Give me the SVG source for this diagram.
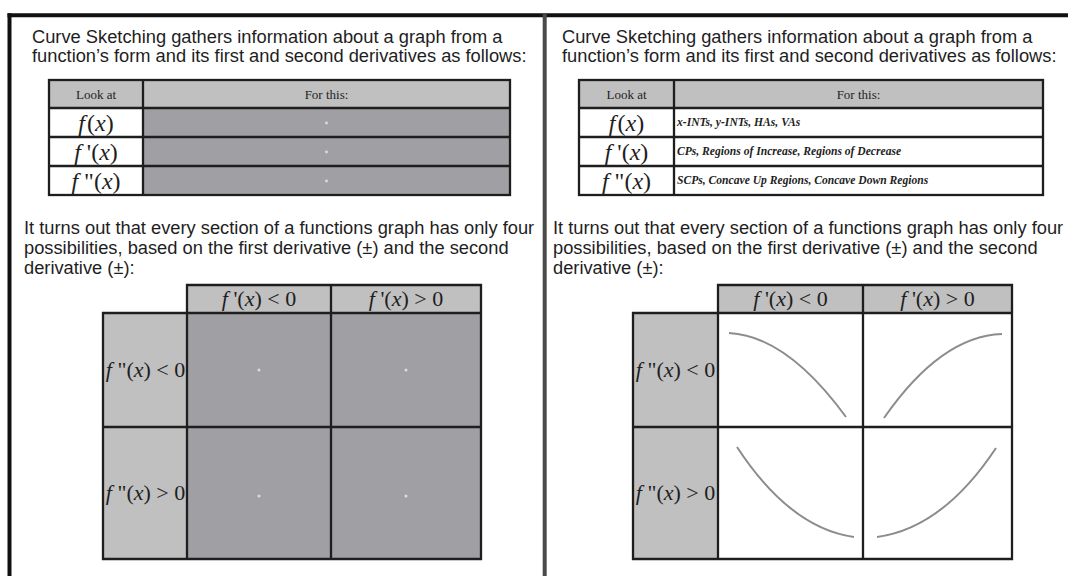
<svg xmlns="http://www.w3.org/2000/svg" width="1068" height="576" viewBox="0 0 1068 576">
  <style>
    .para { font-family: "Liberation Sans", Arial, sans-serif; font-size: 18.3px; fill: #1e1e1e; }
    .serif { font-family: "Liberation Serif", "Times New Roman", serif; fill: #1e1e1e; }
    .hdr { font-size: 13px; }
    .fx { font-size: 24px; }
    .lab { font-size: 22px; }
    .note { font-size: 11.6px; font-weight: bold; font-style: italic; }
    .it { font-style: italic; }
    .grid { stroke: #1e1e1e; stroke-width: 2.3; }
    .light { fill: #c0c0c0; }
    .dark { fill: #a0a0a4; }
    .white { fill: #ffffff; }
    .curve { fill: none; stroke: #8c8c8c; stroke-width: 2; }
    .dot { fill: #dcdcdc; }
  </style>

  <rect width="1068" height="576" fill="#ffffff"/>

  <!-- page frame -->
  <g id="frame">
    <line x1="7.5" y1="15.3" x2="1068" y2="15.3" stroke="#111" stroke-width="4"/>
    <line x1="9.5" y1="13.3" x2="9.5" y2="576" stroke="#111" stroke-width="4"/>
    <line x1="544.7" y1="13.3" x2="544.7" y2="576" stroke="#4a4a4a" stroke-width="4"/>
  </g>

  <!-- ===== left panel ===== -->
  <g id="left-intro">
    <text class="para" x="32" y="42.5">Curve Sketching gathers information about a graph from a</text>
    <text class="para" x="32" y="61.5">function’s form and its first and second derivatives as follows:</text>
  </g>

  <g id="left-table">
    <rect class="light" x="49" y="80" width="461" height="28"/>
    <rect class="white" x="49" y="108" width="94" height="87"/>
    <rect class="dark" x="143" y="108" width="367" height="87"/>
    <g class="grid" fill="none">
      <rect x="49" y="80" width="461" height="115"/>
      <line x1="143" y1="80" x2="143" y2="195"/>
      <line x1="49" y1="108" x2="510" y2="108"/>
      <line x1="49" y1="137" x2="510" y2="137"/>
      <line x1="49" y1="166" x2="510" y2="166"/>
    </g>
    <text class="serif hdr" x="96" y="99" text-anchor="middle">Look at</text>
    <text class="serif hdr" x="326.5" y="99" text-anchor="middle">For this:</text>
    <text class="serif fx" x="96" y="131" text-anchor="middle"><tspan class="it">f</tspan><tspan dx="2">(</tspan><tspan class="it">x</tspan>)</text>
    <text class="serif fx" x="96" y="160" text-anchor="middle"><tspan class="it">f</tspan> '(<tspan class="it">x</tspan>)</text>
    <text class="serif fx" x="96" y="189" text-anchor="middle"><tspan class="it">f</tspan> "(<tspan class="it">x</tspan>)</text>
    <circle class="dot" cx="326.5" cy="123" r="1.4"/>
    <circle class="dot" cx="326.5" cy="152" r="1.4"/>
    <circle class="dot" cx="326.5" cy="181" r="1.4"/>
  </g>

  <g id="left-text2">
    <text class="para" x="24" y="234">It turns out that every section of a functions graph has only four</text>
    <text class="para" x="24" y="254">possibilities, based on the first derivative (±) and the second</text>
    <text class="para" x="24" y="274">derivative (±):</text>
  </g>

  <g id="left-grid">
    <rect class="light" x="187" y="285" width="294" height="28"/>
    <rect class="light" x="103" y="313" width="84" height="246"/>
    <rect class="dark" x="187" y="313" width="294" height="246"/>
    <g class="grid" fill="none">
      <polyline points="187,313 187,285 481,285 481,559 103,559 103,313 481,313"/>
      <line x1="187" y1="313" x2="187" y2="559"/>
      <line x1="331" y1="285" x2="331" y2="559"/>
      <line x1="103" y1="427" x2="481" y2="427"/>
    </g>
    <text class="serif lab" x="259" y="306" text-anchor="middle"><tspan class="it">f</tspan> '(<tspan class="it">x</tspan>) &lt; 0</text>
    <text class="serif lab" x="406" y="306" text-anchor="middle"><tspan class="it">f</tspan> '(<tspan class="it">x</tspan>) &gt; 0</text>
    <text class="serif lab" x="145.5" y="377" text-anchor="middle"><tspan class="it">f</tspan> "(<tspan class="it">x</tspan>) &lt; 0</text>
    <text class="serif lab" x="145.5" y="500" text-anchor="middle"><tspan class="it">f</tspan> "(<tspan class="it">x</tspan>) &gt; 0</text>
    <circle class="dot" cx="259" cy="370" r="1.5"/>
    <circle class="dot" cx="406" cy="370" r="1.5"/>
    <circle class="dot" cx="259" cy="496" r="1.5"/>
    <circle class="dot" cx="406" cy="496" r="1.5"/>
  </g>

  <!-- ===== right panel ===== -->
  <g id="right-intro">
    <text class="para" x="562" y="42.5">Curve Sketching gathers information about a graph from a</text>
    <text class="para" x="562" y="61.5">function’s form and its first and second derivatives as follows:</text>
  </g>

  <g id="right-table">
    <rect class="light" x="579" y="80" width="464" height="28"/>
    <rect class="white" x="579" y="108" width="464" height="87"/>
    <g class="grid" fill="none">
      <rect x="579" y="80" width="464" height="115"/>
      <line x1="674" y1="80" x2="674" y2="195"/>
      <line x1="579" y1="108" x2="1043" y2="108"/>
      <line x1="579" y1="137" x2="1043" y2="137"/>
      <line x1="579" y1="166" x2="1043" y2="166"/>
    </g>
    <text class="serif hdr" x="626.5" y="99" text-anchor="middle">Look at</text>
    <text class="serif hdr" x="858.5" y="99" text-anchor="middle">For this:</text>
    <text class="serif fx" x="626.5" y="131" text-anchor="middle"><tspan class="it">f</tspan><tspan dx="2">(</tspan><tspan class="it">x</tspan>)</text>
    <text class="serif fx" x="626.5" y="160" text-anchor="middle"><tspan class="it">f</tspan> '(<tspan class="it">x</tspan>)</text>
    <text class="serif fx" x="626.5" y="189" text-anchor="middle"><tspan class="it">f</tspan> "(<tspan class="it">x</tspan>)</text>
    <text class="serif note" x="677" y="126">x-INTs, y-INTs, HAs, VAs</text>
    <text class="serif note" x="677" y="155">CPs, Regions of Increase, Regions of Decrease</text>
    <text class="serif note" x="677" y="184">SCPs, Concave Up Regions, Concave Down Regions</text>
  </g>

  <g id="right-text2">
    <text class="para" x="553" y="234">It turns out that every section of a functions graph has only four</text>
    <text class="para" x="553" y="254">possibilities, based on the first derivative (±) and the second</text>
    <text class="para" x="553" y="274">derivative (±):</text>
  </g>

  <g id="right-grid">
    <rect class="light" x="718" y="285" width="294" height="28"/>
    <rect class="light" x="633" y="313" width="85" height="246"/>
    <rect class="white" x="718" y="313" width="294" height="246"/>
    <g class="grid" fill="none">
      <polyline points="718,313 718,285 1012,285 1012,559 633,559 633,313 1012,313"/>
      <line x1="718" y1="313" x2="718" y2="559"/>
      <line x1="863" y1="285" x2="863" y2="559"/>
      <line x1="633" y1="427" x2="1012" y2="427"/>
    </g>
    <text class="serif lab" x="790.5" y="306" text-anchor="middle"><tspan class="it">f</tspan> '(<tspan class="it">x</tspan>) &lt; 0</text>
    <text class="serif lab" x="937.5" y="306" text-anchor="middle"><tspan class="it">f</tspan> '(<tspan class="it">x</tspan>) &gt; 0</text>
    <text class="serif lab" x="675.5" y="377" text-anchor="middle"><tspan class="it">f</tspan> "(<tspan class="it">x</tspan>) &lt; 0</text>
    <text class="serif lab" x="675.5" y="500" text-anchor="middle"><tspan class="it">f</tspan> "(<tspan class="it">x</tspan>) &gt; 0</text>
    <!-- the four curve shapes -->
    <path class="curve" d="M729,333 Q787,336 846,417"/>
    <path class="curve" d="M884,418 Q941,336 1002,334"/>
    <path class="curve" d="M737,447 Q790,528 854,537"/>
    <path class="curve" d="M877,537 Q943,528 996,448"/>
  </g>
</svg>
